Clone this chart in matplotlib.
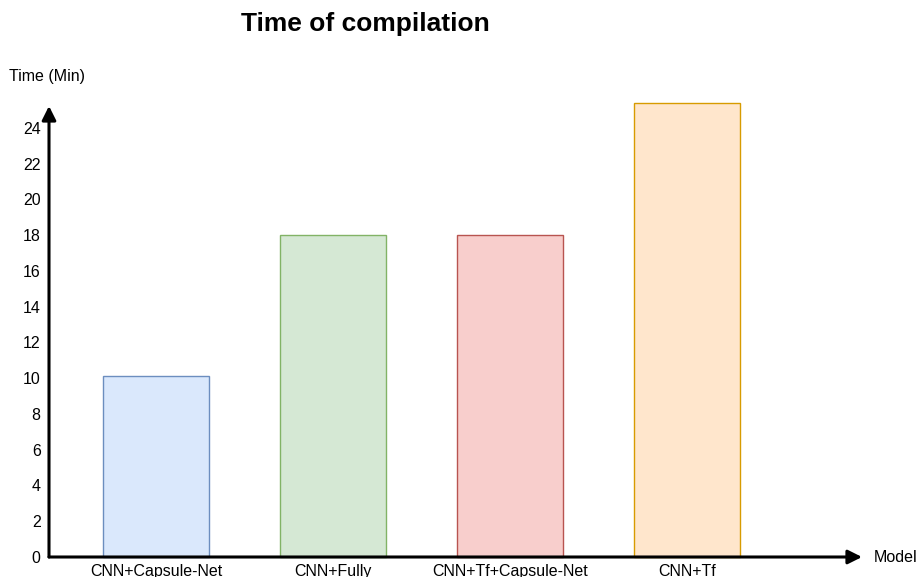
import matplotlib as mpl
import matplotlib.pyplot as plt
import numpy as np

mpl.rcParams["font.family"] = ["Liberation Sans", "DejaVu Sans"]

# compilation time per model, in minutes
models = ["CNN+Capsule-Net", "CNN+Fully", "CNN+Tf+Capsule-Net", "CNN+Tf"]
minutes = [10.1, 18.0, 18.0, 25.4]
y_ticks = list(range(0, 25, 2))

fills = ["#dae8fc", "#d5e8d4", "#f8cecc", "#ffe6cc"]
edges = ["#6c8ebf", "#82b366", "#b85450", "#d79b00"]

W, H = 919, 577
fig = plt.figure(figsize=(W / 100, H / 100), dpi=100)

# axes box from origin (49, 557) to arrow tips (862, 106) in pixels
x0, y0, x1, y1 = 49, 557, 862, 106
ax = fig.add_axes([x0 / W, (H - y0) / H, (x1 - x0) / W, (y0 - y1) / H])

x = np.arange(len(models))
ax.bar(x, minutes, width=0.6, color=fills, edgecolor=edges,
       linewidth=1.0, clip_on=False, zorder=2)

ax.set_xlim(-0.605, 3.99)
ax.set_ylim(0, 25.23)

for side in ["left", "right", "top", "bottom"]:
    ax.spines[side].set_visible(False)

# axis lines with arrow heads
arrow_kw = dict(arrowstyle="-|>", color="black", lw=2.2,
                mutation_scale=21, shrinkA=0, shrinkB=0)
ax.annotate("", xy=(0, 1), xytext=(0, 0), xycoords="axes fraction",
            arrowprops=arrow_kw, zorder=5, annotation_clip=False)
ax.annotate("", xy=(1, 0), xytext=(0, 0), xycoords="axes fraction",
            arrowprops=arrow_kw, zorder=5, annotation_clip=False)

ax.set_yticks(y_ticks)
ax.set_yticklabels([str(v) for v in y_ticks], fontsize=11.5)
ax.set_xticks(x)
ax.set_xticklabels(models, fontsize=11.5)
ax.tick_params(axis="y", length=0, pad=6)
ax.tick_params(axis="x", length=0, pad=5)

fig.text(365 / W, 1 - 24 / H, "Time of compilation", ha="center",
         va="center", fontsize=19, fontweight="bold")
fig.text(9 / W, 1 - 77 / H, "Time (Min)", ha="left", va="center",
         fontsize=11.5)
fig.text(874 / W, 1 - 558 / H, "Model", ha="left", va="center",
         fontsize=11.5)

fig.savefig("out.png", dpi=100)
